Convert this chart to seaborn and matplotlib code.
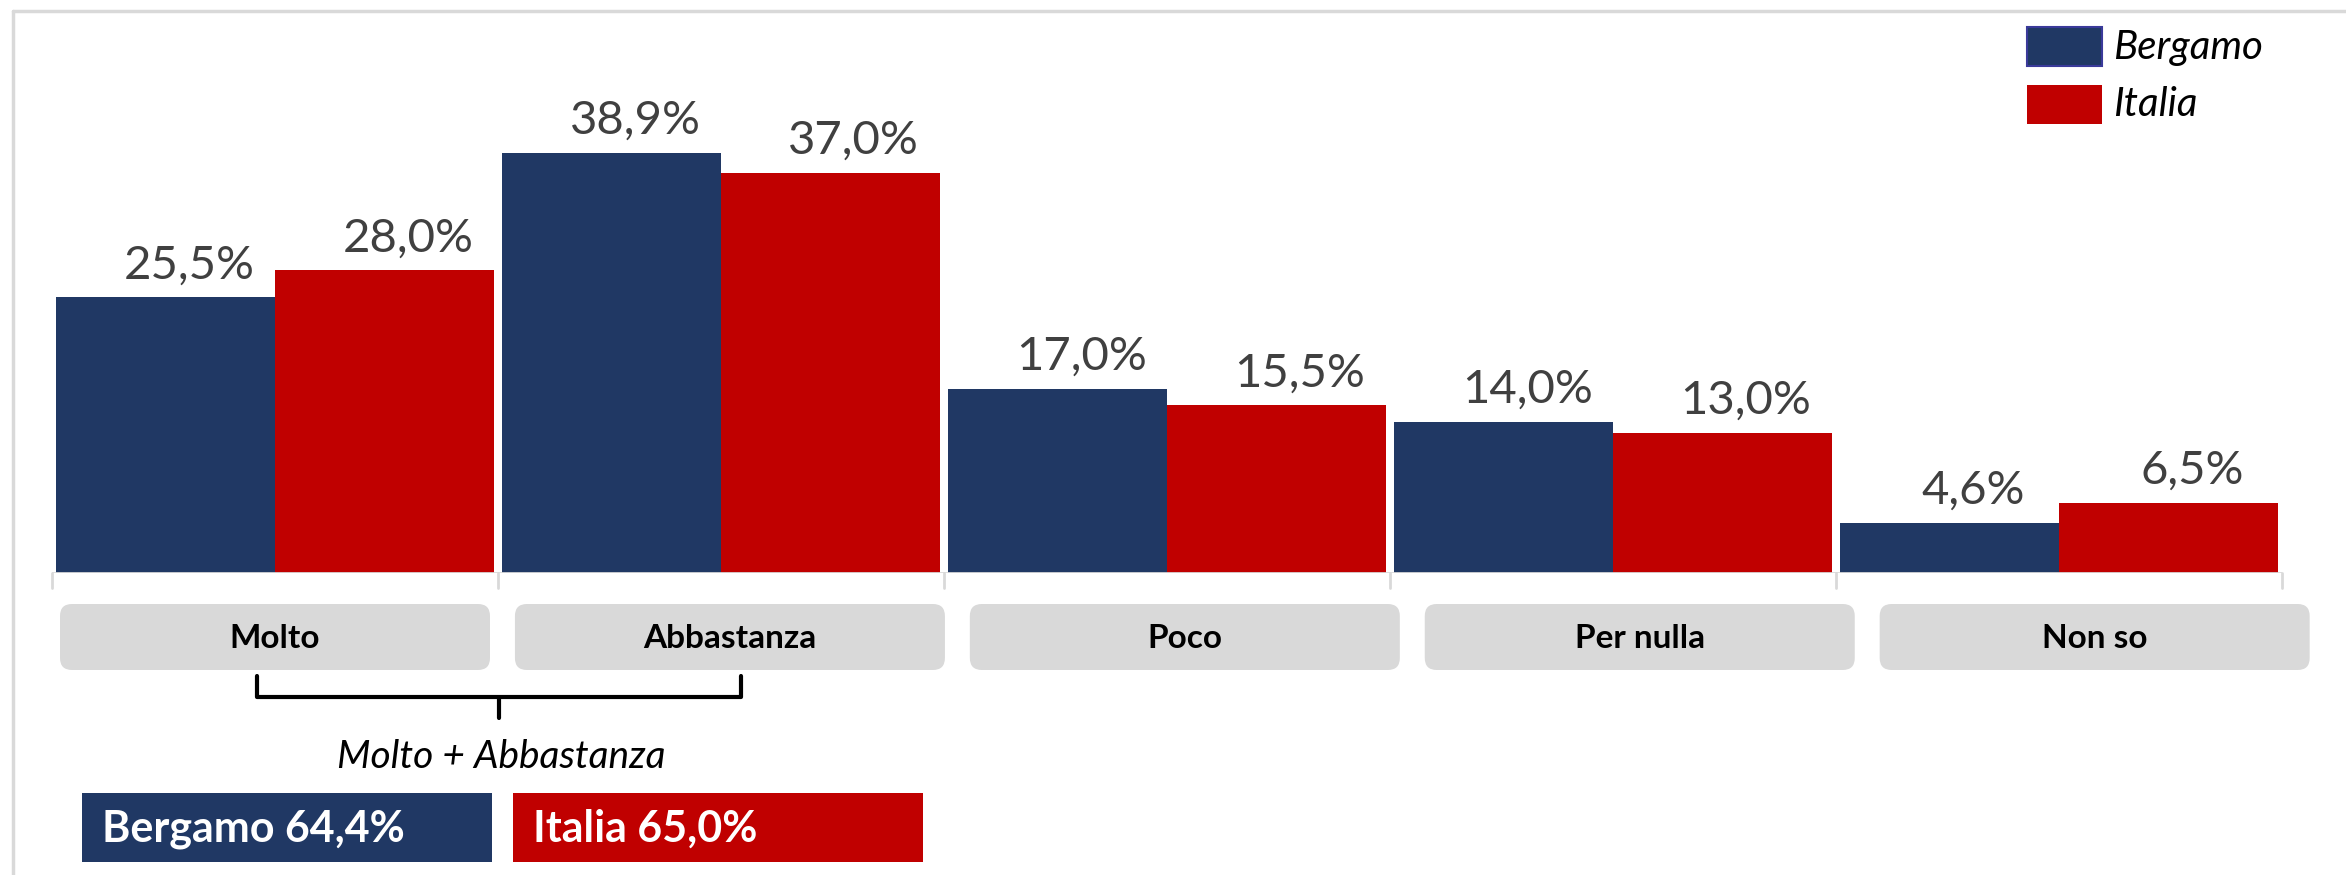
import pandas as pd
import matplotlib.pyplot as plt
import seaborn as sns
from matplotlib.patches import FancyBboxPatch, Rectangle

categories = ['Molto', 'Abbastanza', 'Poco', 'Per nulla', 'Non so']
series = ['Bergamo', 'Italia']
bergamo = [25.5, 38.9, 17.0, 14.0, 4.6]
italia = [28.0, 37.0, 15.5, 13.0, 6.5]
colors = ['#203864', '#C00000']
summary_label = 'Molto + Abbastanza'
summary = [64.4, 65.0]

df = pd.DataFrame({'categoria': categories * 2,
                   'area': [series[0]] * 5 + [series[1]] * 5,
                   'valore': bergamo + italia})

W, H = 2346, 875
sns.set_style('white')
plt.rcParams['font.family'] = ['Lato', 'DejaVu Sans']

def pct(v):
    return f'{v:.1f}'.replace('.', ',') + '%'

fig = plt.figure(figsize=(W / 100, H / 100), dpi=100)
ax = fig.add_axes([52 / W, 302 / H, 2230 / W, 562 / H])
sns.barplot(data=df, x='categoria', y='valore', hue='area', order=categories,
            palette=colors, width=0.98, gap=0, saturation=1, legend=False,
            linewidth=0, ax=ax)
ax.set_xlim(-0.5, 4.5)
ax.set_ylim(0, 52)
ax.axis('off')

# baseline + tick marks
ax.axhline(0, color='#d9d9d9', lw=2)
for x in [i - 0.5 for i in range(len(categories) + 1)]:
    ax.plot([x, x], [0, -1.4], color='#d9d9d9', lw=2, clip_on=False)

# value labels
for cont, vals in zip(ax.containers, [bergamo, italia]):
    for bar, v in zip(cont, vals):
        ax.annotate(pct(v), (bar.get_x() + bar.get_width() / 2, bar.get_height()),
                    xytext=(17, 8), textcoords='offset points', ha='center', va='bottom',
                    fontsize=34, color='#404040')

# overlay in pixel coords (y from top)
ov = fig.add_axes([0, 0, 1, 1])
ov.set_xlim(0, W)
ov.set_ylim(H, 0)
ov.axis('off')
ov.patch.set_visible(False)

# frame
ov.plot([13, 13], [11, H], color='#d9d9d9', lw=2.5)
ov.plot([13, W], [11, 11], color='#d9d9d9', lw=2.5)

# category boxes
for i, cat in enumerate(categories):
    cx = ax.transData.transform((i * 1.02, 0))[0]
    ov.add_patch(FancyBboxPatch((cx - 215, 604), 430, 66,
                                boxstyle='round,pad=0,rounding_size=12',
                                fc='#d9d9d9', ec='none'))
    ov.text(cx, 638, cat, ha='center', va='center', fontsize=24,
            fontweight='bold', color='black')

# bracket
ov.plot([257, 257, 741, 741], [676, 697, 697, 676], color='black', lw=3,
        solid_joinstyle='round', solid_capstyle='round')
ov.plot([499, 499], [697, 718], color='black', lw=3, solid_capstyle='round')
ov.text(501, 757, summary_label, ha='center', va='center', fontsize=28,
        style='italic', color='black')

# summary boxes
for x0, name, val, col in zip([82, 513], series, summary, colors):
    ov.add_patch(Rectangle((x0, 793), 410, 69, fc=col, ec='none'))
    ov.text(x0 + 20, 829, f'{name} {pct(val)}', ha='left', va='center',
            fontsize=31, fontweight='bold', color='white')

# legend
for y0, name, col, ec in zip([27, 85], series, colors, ['#3a3a9a', 'none']):
    ov.add_patch(Rectangle((2027, y0), 75, 39, fc=col, ec=ec, lw=1.5))
    ov.text(2113, y0 + 20, name, ha='left', va='center', fontsize=29,
            style='italic', color='black')

fig.savefig('out.png', dpi=100)
print('done')
